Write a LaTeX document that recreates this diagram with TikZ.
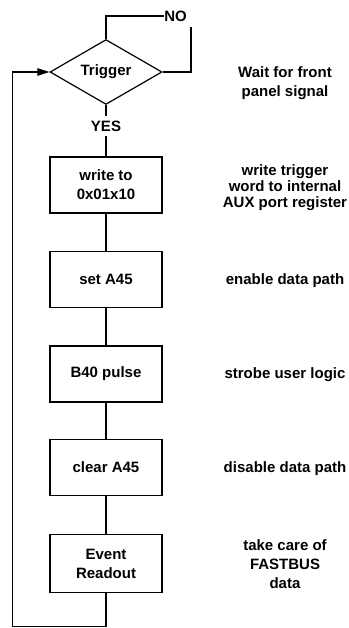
\documentclass[tikz,border=0pt]{standalone}
\usepackage{fontspec}
\setmainfont{Liberation Sans}
\usetikzlibrary{shapes.geometric,arrows.meta}

\begin{document}
\begin{tikzpicture}[x=1pt,y=-1pt,
  every node/.style={font=\fontsize{15}{19}\selectfont\bfseries},
  flow/.style={line width=1.2pt},
  stepbox/.style={draw,line width=1.2pt,rectangle,minimum width=112pt,minimum height=56pt,align=center,inner sep=2pt},
  decision/.style={draw,line width=1.2pt,diamond,minimum width=112pt,minimum height=56pt,inner sep=0pt},
  note/.style={align=center,inner sep=0pt},
  tag/.style={inner sep=0pt,text height=11pt,text depth=0pt}]
  \useasboundingbox (0,0) rectangle (348,628);

  % decision and process steps
  \node[decision] (trig) at (106,72) {Trigger};
  \node[tag,inner ysep=4.5pt] (yes) at (106,126) {YES};
  \node[tag,inner xsep=0.5pt] (no) at (175.5,16) {NO};
  \node[stepbox] (b1) at (106,185) {write to\\0x01x10};
  \node[stepbox] (b2) at (106,279.5) {set A45};
  \node[stepbox] (b3) at (106,374) {B40 pulse};
  \node[stepbox] (b4) at (106,467.5) {clear A45};
  \node[stepbox,minimum height=58pt] (b5) at (106,563.5) {Event\\Readout};

  % explanations on the right
  \node[note] (n0) at (285,83.3) {Wait for front\\panel signal};
  \node[note,font=\fontsize{15}{16}\selectfont\bfseries] (n1) at (285,188) {write trigger\\word to internal\\AUX port register};
  \node[note] (n2) at (285,281) {enable data path};
  \node[note] (n3) at (285,375) {strobe user logic};
  \node[note] (n4) at (285,469) {disable data path};
  \node[note] (n5) at (285,564) {take care of\\FASTBUS\\data};

  % loop points
  \coordinate (nr) at (191,27);
  \coordinate (lc) at (12.5,626.5);

  % connectors
  \draw[flow] (trig.north) |- (no.west);
  \draw[flow] (trig.east) -| (nr);
  \draw[flow] (trig.south) -- (yes.north);
  \draw[flow] (yes.south) -- (b1.north);
  \draw[flow] (b1) -- (b2);
  \draw[flow] (b2) -- (b3);
  \draw[flow] (b3) -- (b4);
  \draw[flow] (b4) -- (b5);
  \draw[flow,-{Triangle[length=12pt,width=7.5pt]}] (b5.south) |- (lc) |- (trig.west);
\end{tikzpicture}
\end{document}
